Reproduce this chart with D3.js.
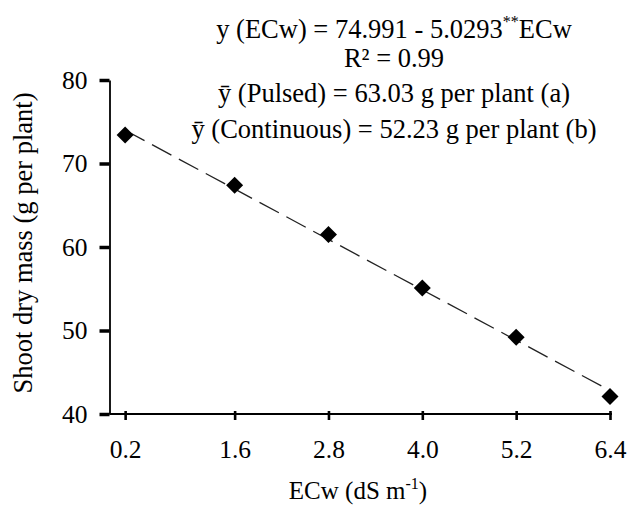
<!DOCTYPE html>
<html>
<head>
<meta charset="utf-8">
<script src="https://cdn.jsdelivr.net/npm/d3@7"></script>
<style>
  html, body { margin: 0; padding: 0; background: #fff; }
  svg { display: block; }
  svg text { font-family: 'Liberation Serif', 'Times New Roman', serif !important; fill: #000; }
</style>
</head>
<body>
<div id="chart"></div>
<script>
// ---- data ----
const ecw = [0.2, 1.6, 2.8, 4.0, 5.2, 6.4];
const shootMass = [73.4, 67.4, 61.5, 55.1, 49.2, 42.1];
const xTickValues = [0.2, 1.6, 2.8, 4.0, 5.2, 6.4];
const xTickLabels = ["0.2", "1.6", "2.8", "4.0", "5.2", "6.4"];
const yTickValues = [40, 50, 60, 70, 80];
const fitIntercept = 74.991;
const fitSlope = -5.0293;
const fitRange = [0.2, 6.4];
const xTitle = "ECw (dS m";
const xTitleSup = "-1";
const yTitle = "Shoot dry mass (g per plant)";
const eqLine1 = ["y (ECw) = 74.991 - 5.0293", "**", "ECw"];
const eqLine2 = "R² = 0.99";
const eqLine3 = "ȳ (Pulsed) = 63.03 g per plant (a)";
const eqLine4 = "ȳ (Continuous) = 52.23 g per plant (b)";

// ---- layout ----
const FONT = "'Liberation Serif', 'Times New Roman', serif";
const W = 629, H = 505;
const svg = d3.select("#chart").append("svg").attr("width", W).attr("height", H)
  .attr("font-family", FONT);

const x = d3.scaleLinear().domain([0, 6.4]).range([109.5, 610]);
const y = d3.scaleLinear().domain([40, 80]).range([414, 80]);

// y axis
const yAxis = svg.append("g")
  .attr("transform", `translate(${x(0)},0)`)
  .call(d3.axisLeft(y).tickValues(yTickValues).tickSizeInner(10).tickSizeOuter(0).tickPadding(12).tickFormat(d3.format("d")));
yAxis.attr("font-family", FONT);
yAxis.select(".domain").attr("stroke", "#000").attr("stroke-width", 1.8);
yAxis.selectAll(".tick line").attr("stroke", "#000").attr("stroke-width", 3.5);
yAxis.selectAll(".tick text").attr("font-size", 25.5).attr("font-family", FONT).attr("fill", "#000");

// x axis
const xAxis = svg.append("g")
  .attr("transform", `translate(0,${y(40)})`)
  .call(d3.axisBottom(x).tickValues(xTickValues).tickSizeInner(6).tickSizeOuter(0).tickPadding(20)
    .tickFormat((d, i) => xTickLabels[i]));
xAxis.attr("font-family", FONT);
xAxis.select(".domain").attr("stroke", "#000").attr("stroke-width", 1.8)
  .attr("d", `M${x(0)},0H${x(6.4) + 2}`);
xAxis.selectAll(".tick line").attr("stroke", "#000").attr("stroke-width", 2.6).attr("y1", -3);
xAxis.selectAll(".tick text").attr("font-size", 25.5).attr("font-family", FONT).attr("fill", "#000");

// fitted line
const fitData = fitRange.map(v => [v, fitIntercept + fitSlope * v]);
svg.append("path")
  .datum(fitData)
  .attr("fill", "none")
  .attr("stroke", "#222")
  .attr("stroke-width", 1.3)
  .attr("stroke-dasharray", "22,8.5")
  .attr("d", d3.line().x(d => x(d[0])).y(d => y(d[1])));

// points (diamonds)
const r = 8.5;
svg.append("g").selectAll("path")
  .data(ecw.map((v, i) => [v, shootMass[i]]))
  .join("path")
  .attr("transform", d => `translate(${x(d[0])},${y(d[1])})`)
  .attr("d", `M0,${-r}L${r},0L0,${r}L${-r},0Z`)
  .attr("fill", "#000");

// axis titles
const xt = svg.append("text")
  .attr("x", 358).attr("y", 499)
  .attr("text-anchor", "middle")
  .attr("font-size", 25);
xt.append("tspan").text(xTitle);
xt.append("tspan").attr("font-size", 16).attr("dy", -10).text(xTitleSup);
xt.append("tspan").attr("dy", 10).text(")");

svg.append("text")
  .attr("transform", "translate(31.5,243) rotate(-90)")
  .attr("text-anchor", "middle")
  .attr("font-size", 26.5)
  .text(yTitle);

// annotation
const cx = 394;
const fs = 26.5;
const a1 = svg.append("text").attr("x", cx).attr("y", 37.5).attr("text-anchor", "middle").attr("font-size", fs);
a1.append("tspan").text(eqLine1[0]);
a1.append("tspan").attr("font-size", 16).attr("dy", -11).text(eqLine1[1]);
a1.append("tspan").attr("dy", 11).text(eqLine1[2]);

svg.append("text").attr("x", cx).attr("y", 67).attr("text-anchor", "middle").attr("font-size", fs).text(eqLine2);
svg.append("text").attr("x", cx).attr("y", 101.5).attr("text-anchor", "middle").attr("font-size", fs).text(eqLine3);
svg.append("text").attr("x", cx).attr("y", 138).attr("text-anchor", "middle").attr("font-size", fs).text(eqLine4);
</script>
</body>
</html>
